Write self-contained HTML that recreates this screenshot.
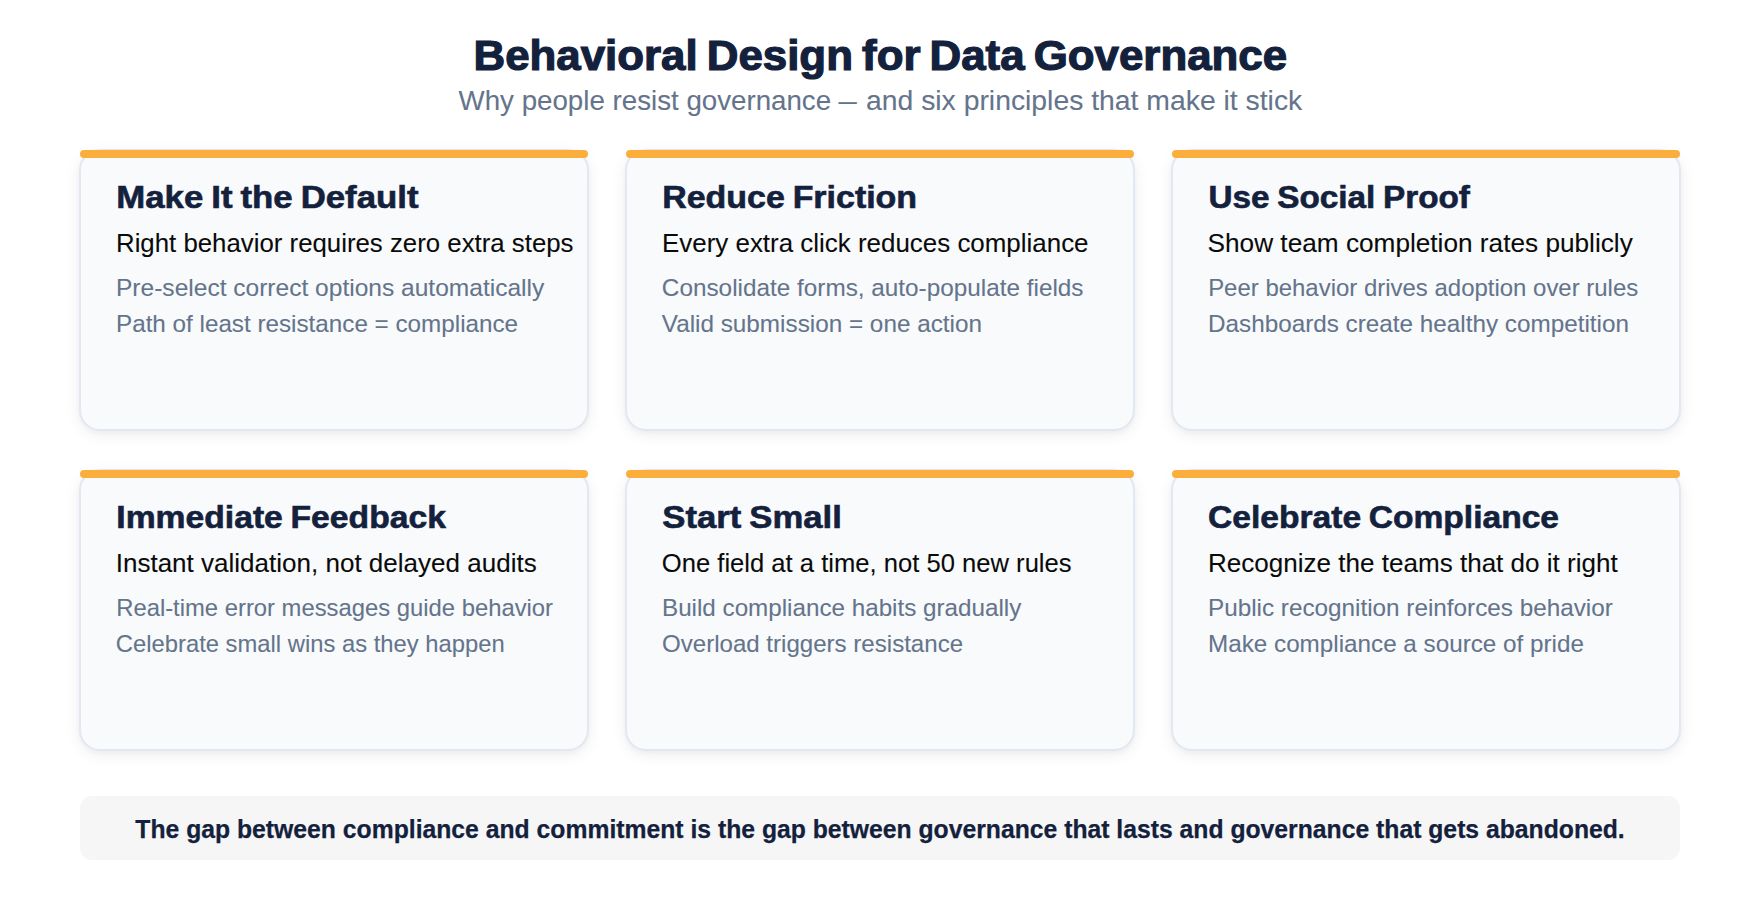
<!DOCTYPE html>
<html lang="en"><head><meta charset="utf-8"><title>Behavioral Design for Data Governance</title>
<style>
*{margin:0;padding:0;box-sizing:border-box}
html,body{width:1760px;height:920px;background:#fff;overflow:hidden}
body{font-family:"Liberation Sans",sans-serif;position:relative;color:#14213d}
span.t{display:inline-block;white-space:nowrap;transform-origin:0 50%}
.c span.t{transform-origin:50% 50%}
.c span.t.l{transform-origin:0 50%}
.c span.t.r{transform-origin:100% 50%}
span.d{display:inline-block;transform:scaleX(0.66);transform-origin:0 50%;margin-right:-9.7px;width:1em}
h1{position:absolute;left:0;top:28px;width:1760px;height:54px;text-align:center;font-weight:700;font-size:43px;line-height:54px;color:#14213d;-webkit-text-stroke:1.2px #14213d;word-spacing:-3px}
.sub{position:absolute;left:0;top:83px;width:1760px;height:34px;text-align:center;font-size:28.5px;line-height:34px;color:#64748b;-webkit-text-stroke:0.08px #64748b}
.card{position:absolute;width:510px;height:282px;background:#f8fafc;border:2px solid #e1e8f1;border-radius:21px;box-shadow:0 2px 4px rgba(50,50,150,.035),0 4px 16px rgba(0,0,0,.065);padding:0 35px}
.card:before{content:"";position:absolute;left:-1px;right:-1px;top:-1px;height:8px;border-radius:4px;background:#fbae3c}
.card h2{font-weight:700;font-size:31px;line-height:36px;height:36px;color:#14213d;margin-top:29px;-webkit-text-stroke:0.6px #14213d;word-spacing:-1.5px}
.card h3{font-weight:400;font-size:26px;line-height:30px;height:30px;color:#0a0a0a;margin-top:12px;-webkit-text-stroke:0.08px #0a0a0a}
.card p{font-size:24px;line-height:36px;height:36px;color:#64748b;-webkit-text-stroke:0.08px #64748b}
.card p.f{margin-top:12px}
.foot{position:absolute;left:80px;top:796px;width:1600px;height:64px;border-radius:12px;background:#f6f6f6;text-align:center;font-weight:700;font-size:26px;line-height:66px;color:#14213d;-webkit-text-stroke:0.25px #14213d}

</style></head><body>
<h1 class="c"><span class="t" style="transform:translateX(0.26px) scaleX(1.0194)">Behavioral Design for Data Governance</span></h1>
<div class="sub c"><span class="t l" style="transform:translateX(6.56px) scaleX(0.9718)">Why people resist governance <span class="d">—</span></span> <span class="t r" style="transform:translateX(-6.54px) scaleX(0.9942)">and six principles that make it stick</span></div>
<div class="card" style="left:79px;top:149px">
<h2><span class="t" style="transform:translateX(0.23px) scaleX(1.1222)">Make It the Default</span></h2>
<h3><span class="t" style="transform:translateX(0.00px) scaleX(0.9924)">Right behavior requires zero extra steps</span></h3>
<p class="f"><span class="t" style="transform:translateX(0.00px) scaleX(1.0225)">Pre-select correct options automatically</span></p>
<p><span class="t" style="transform:translateX(0.00px) scaleX(1.0097)">Path of least resistance = compliance</span></p>
</div>
<div class="card" style="left:625px;top:149px">
<h2><span class="t" style="transform:translateX(0.23px) scaleX(1.0949)">Reduce Friction</span></h2>
<h3><span class="t" style="transform:translateX(-0.00px) scaleX(0.9972)">Every extra click reduces compliance</span></h3>
<p class="f"><span class="t" style="transform:translateX(-0.14px) scaleX(1.0130)">Consolidate forms, auto-populate fields</span></p>
<p><span class="t" style="transform:translateX(-0.23px) scaleX(1.0119)">Valid submission = one action</span></p>
</div>
<div class="card" style="left:1171px;top:149px">
<h2><span class="t" style="transform:translateX(0.49px) scaleX(1.0743)">Use Social Proof</span></h2>
<h3><span class="t" style="transform:translateX(-0.44px) scaleX(1.0076)">Show team completion rates publicly</span></h3>
<p class="f"><span class="t" style="transform:translateX(0.14px) scaleX(0.9981)">Peer behavior drives adoption over rules</span></p>
<p><span class="t" style="transform:translateX(0.00px) scaleX(1.0112)">Dashboards create healthy competition</span></p>
</div>
<div class="card" style="left:79px;top:469px">
<h2><span class="t" style="transform:translateX(0.27px) scaleX(1.0862)">Immediate Feedback</span></h2>
<h3><span class="t" style="transform:translateX(-0.31px) scaleX(1.0009)">Instant validation, not delayed audits</span></h3>
<p class="f"><span class="t" style="transform:translateX(0.19px) scaleX(0.9923)">Real-time error messages guide behavior</span></p>
<p><span class="t" style="transform:translateX(-0.16px) scaleX(0.9914)">Celebrate small wins as they happen</span></p>
</div>
<div class="card" style="left:625px;top:469px">
<h2><span class="t" style="transform:translateX(0.32px) scaleX(1.1185)">Start Small</span></h2>
<h3><span class="t" style="transform:translateX(-0.23px) scaleX(0.9846)">One field at a time, not 50 new rules</span></h3>
<p class="f"><span class="t" style="transform:translateX(0.00px) scaleX(1.0086)">Build compliance habits gradually</span></p>
<p><span class="t" style="transform:translateX(0.00px) scaleX(1.0031)">Overload triggers resistance</span></p>
</div>
<div class="card" style="left:1171px;top:469px">
<h2><span class="t" style="transform:translateX(0.07px) scaleX(1.0829)">Celebrate Compliance</span></h2>
<h3><span class="t" style="transform:translateX(-0.01px) scaleX(1.0018)">Recognize the teams that do it right</span></h3>
<p class="f"><span class="t" style="transform:translateX(0.00px) scaleX(1.0113)">Public recognition reinforces behavior</span></p>
<p><span class="t" style="transform:translateX(0.00px) scaleX(1.0101)">Make compliance a source of pride</span></p>
</div>
<div class="foot c"><span class="t" style="transform:translateX(-0.01px) scaleX(0.9510)">The gap between compliance and commitment is the gap between governance that lasts and governance that gets abandoned.</span></div>
</body></html>
